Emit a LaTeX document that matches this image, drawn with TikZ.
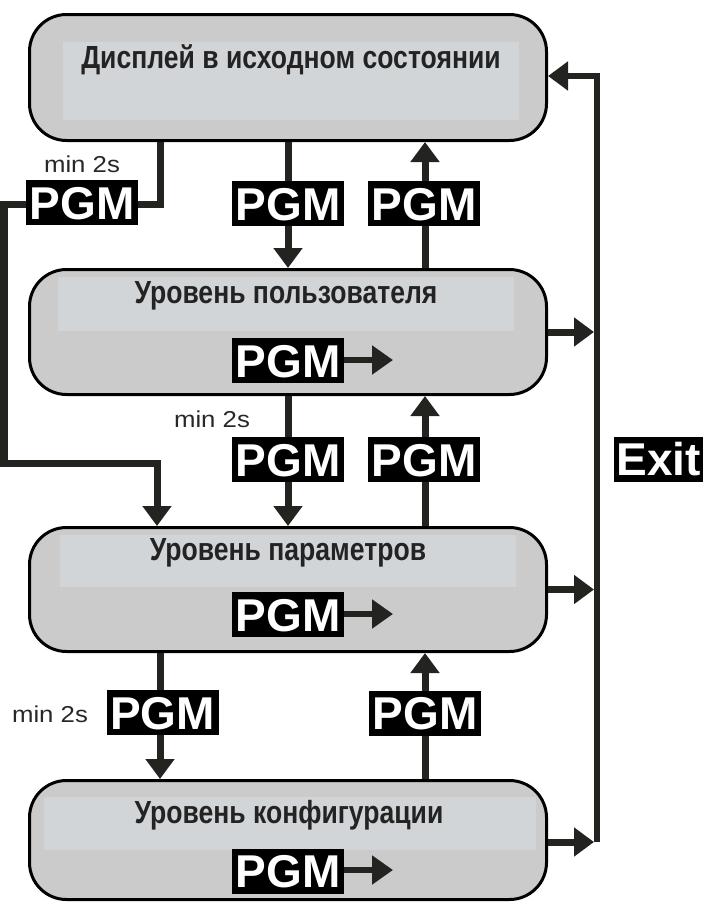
\documentclass[tikz,border=0pt]{standalone}
\usepackage{fontspec}
\setmainfont{Liberation Sans}
\newfontfamily\condfont[FakeStretch=0.83]{Liberation Sans}
\newfontfamily\minfont[FakeStretch=1.12]{Liberation Sans}
\usetikzlibrary{arrows.meta}
\definecolor{boxfill}{RGB}{203,203,203}
\definecolor{innerfill}{RGB}{210,213,215}
\definecolor{linecol}{RGB}{35,36,32}
\definecolor{txtcol}{RGB}{35,35,35}
\definecolor{mincol}{RGB}{40,40,40}
\begin{document}
\begin{tikzpicture}[x=1pt,y=-1pt,
  state/.style={draw=black, line width=3pt, fill=boxfill, rounded corners=37pt,
    minimum width=517pt, inner sep=0pt},
  inner/.style={fill=innerfill},
  title/.style={anchor=base, inner sep=0pt, text=txtcol,
    font=\condfont\bfseries\fontsize{32}{38}\selectfont},
  pgm/.style={fill=black, text=white, inner sep=0pt, minimum width=112pt,
    minimum height=45pt, text height=33pt, text depth=0pt,
    font=\bfseries\fontsize{46}{50}\selectfont},
  mintxt/.style={anchor=base, inner sep=0pt, text=mincol,
    font=\minfont\fontsize{23}{27}\selectfont},
  conn/.style={draw=linecol, line width=7pt, line join=miter, line cap=butt},
  tip/.style={-{Triangle[width=28pt,length=20pt]}},
  small/.style={draw=linecol, line width=6pt, -{Triangle[width=28pt,length=21pt]}}
]
\useasboundingbox (0,0) rectangle (708,903);

% state boxes
\node[state, minimum height=126pt] (b1) at (288,77.5) {};
\node[state, minimum height=125pt] (b2) at (288,332) {};
\node[state, minimum height=124pt] (b3) at (288,589.5) {};
\node[state, minimum height=119pt] (b4) at (288,840) {};

% lighter title bands
\fill[inner] (63,42) rectangle (519,120);
\fill[inner] (58,277) rectangle (514,331);
\fill[inner] (60,535) rectangle (516,587);
\fill[inner] (44,797) rectangle (536,850);

% titles
\node[title] (t1) at (291,68) {Дисплей в исходном состоянии};
\node[title] (t2) at (286,303) {Уровень пользователя};
\node[title] (t3) at (288,560) {Уровень параметров};
\node[title] (t4) at (289,823) {Уровень конфигурации};

% PGM keys inside boxes
\node[pgm] (p2) at (288,360.5) {PGM};
\node[pgm] (p3) at (288,614.5) {PGM};
\node[pgm] (p4) at (288,871) {PGM};
\coordinate (a2) at (393,360);
\coordinate (a3) at (393,614);
\coordinate (a4) at (393,870);
\draw[small] (p2.east |- a2) -- (a2);
\draw[small] (p3.east |- a3) -- (a3);
\draw[small] (p4.east |- a4) -- (a4);

% coordinates for connectors
\coordinate (k1) at (160,204);
\coordinate (k2) at (4,463);
\coordinate (k3) at (157,463);
\coordinate (xd) at (288,0);
\coordinate (xu) at (425,0);
\coordinate (xl) at (160,0);
\coordinate (e1) at (597,76);
\coordinate (e4) at (597,842);
\coordinate (ex) at (594,0);

% long left path (min 2s)
\draw[conn, tip] (b1.south -| k1) -- (k1) -| (k2) -- (k3) -- (b3.north -| k3);
% vertical transitions
\draw[conn, tip] (b1.south -| xd) -- (b2.north -| xd);
\draw[conn, tip] (b2.north -| xu) -- (b1.south -| xu);
\draw[conn, tip] (b2.south -| xd) -- (b3.north -| xd);
\draw[conn, tip] (b3.north -| xu) -- (b2.south -| xu);
\draw[conn, tip] (b3.south -| xl) -- (b4.north -| xl);
\draw[conn, tip] (b4.north -| xu) -- (b3.south -| xu);
% exit bus
\draw[conn, line width=6pt, tip] (e4) -- (e1) -- (b1.east |- e1);
\draw[conn, tip] (b2.east) -- (b2.east -| ex);
\draw[conn, tip] (b3.east) -- (b3.east -| ex);
\draw[conn, tip] (b4.east |- e4) -- (ex |- e4);

% key labels on connectors
\node[pgm] (l1) at (82,202.5) {PGM};
\node[pgm] (l2) at (288,203.5) {PGM};
\node[pgm] (l3) at (424,203.5) {PGM};
\node[pgm] (l4) at (288,459.5) {PGM};
\node[pgm] (l5) at (424,459.5) {PGM};
\node[pgm] (l6) at (162.5,712.5) {PGM};
\node[pgm] (l7) at (425,713) {PGM};
\node[pgm, minimum width=89pt] (exit) at (658.5,459) {Exit};

% min 2s notes
\node[mintxt] (m1) at (82,172) {min 2s};
\node[mintxt] (m2) at (212,427) {min 2s};
\node[mintxt] (m3) at (50,722) {min 2s};
\end{tikzpicture}
\end{document}
